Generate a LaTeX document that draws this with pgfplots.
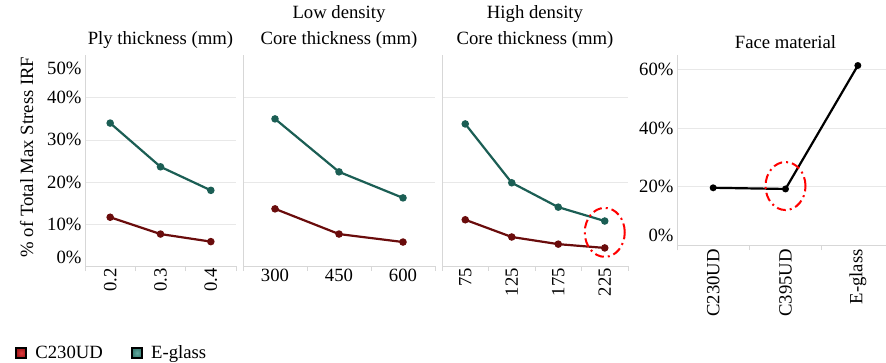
\documentclass[border=0pt]{standalone}
\usepackage{fontspec}
\setmainfont{Liberation Serif}
\usepackage{pgfplots}
\pgfplotsset{compat=1.18}

\definecolor{eglass}{RGB}{27,94,84}
\definecolor{cud}{RGB}{106,12,12}
\definecolor{gridc}{RGB}{232,232,232}
\definecolor{axc}{RGB}{215,215,215}
\definecolor{redsq}{RGB}{222,60,62}
\definecolor{redsqo}{RGB}{165,25,28}
\definecolor{tealsq}{RGB}{100,170,160}
\definecolor{tealsqo}{RGB}{55,125,115}

\newcommand\chartfont{\fontsize{18.7}{26}\selectfont}

\tikzset{ring/.style={red, line width=2pt, dash pattern=on 9pt off 4pt on 2pt off 4pt}}

\pgfplotsset{
  panel/.style={
    scale only axis, anchor=south west,
    axis x line*=bottom, axis y line*=left,
    axis line style={-, draw=axc, line width=0.8pt},
    ymajorgrids, grid style={draw=gridc, line width=0.8pt},
    major tick length=0pt, minor tick length=5pt, tick align=outside,
    minor tick style={draw=axc, line width=0.8pt},
    tick label style={font=\chartfont, text=black},
    title style={font=\chartfont, align=center, at={(0.5,1)}, anchor=south, inner sep=0pt},
    xmin=-0.5, clip=false,
    every axis plot/.append style={line width=2.2pt, mark=*, mark size=2.6pt, mark options={solid}},
  },
}

\begin{document}
\begin{tikzpicture}
\useasboundingbox (0pt,0pt) rectangle (886pt,-363pt);

% Ply thickness
\begin{axis}[panel, at={(85pt,-266pt)}, width=151pt, height=211pt,
  xmax=2.5, ymin=0, ymax=50.2,
  xtick={0,1,2}, xticklabels={0.2,0.3,0.4}, minor xtick={-0.5,0.5,1.5,2.5},
  xticklabel style={rotate=90, anchor=east, inner sep=2pt},
  ytick={10,20,30,40}, yticklabels={10\%,20\%,30\%,40\%},
  extra y ticks={0,50},
  extra y tick labels={\smash{\raisebox{2.8pt}{0\%}},\smash{\raisebox{-18.2pt}{50\%}}},
  extra y tick style={grid=none},
  title={Ply thickness (mm)},
  legend columns=2, legend cell align=left,
  legend style={font=\chartfont, draw=none, fill=none, inner sep=0pt,
    nodes={inner sep=0pt},
    /tikz/every odd column/.append style={column sep=8pt},
    /tikz/every even column/.append style={column sep=28pt},
    at={(axis description cs:-0.4636,-0.412)}, anchor=west}]
\addplot[eglass, forget plot] coordinates {(0,34.0) (1,23.6) (2,18.0)};
\addplot[cud, forget plot] coordinates {(0,11.6) (1,7.6) (2,5.8)};
\addlegendimage{legend image code/.code={\shade[inner color=redsq, outer color=redsqo] (0pt,-5pt) rectangle (10pt,5pt);}}
\addlegendentry{C230UD}
\addlegendimage{legend image code/.code={\shade[inner color=tealsq, outer color=tealsqo] (0pt,-5pt) rectangle (10pt,5pt);}}
\addlegendentry{E-glass}
\end{axis}

% Core thickness, low density core
\begin{axis}[panel, at={(243pt,-266pt)}, width=192pt, height=211pt,
  xmax=2.5, ymin=0, ymax=50.2,
  xtick={0,1,2}, xticklabels={300,450,600}, minor xtick={-0.5,0.5,1.5,2.5},
  xticklabel style={inner sep=3pt},
  ytick={20,40}, yticklabels={\empty,\empty},
  title={Low density\\Core thickness (mm)}]
\addplot[eglass] coordinates {(0,35.0) (1,22.4) (2,16.2)};
\addplot[cud] coordinates {(0,13.6) (1,7.6) (2,5.7)};
\end{axis}

% Core thickness, high density core
\begin{axis}[panel, at={(442pt,-266pt)}, width=186pt, height=211pt,
  xmax=3.5, ymin=0, ymax=50.2,
  xtick={0,1,2,3}, xticklabels={75,125,175,225}, minor xtick={-0.5,0.5,1.5,2.5,3.5},
  xticklabel style={rotate=90, anchor=east, inner sep=2pt},
  ytick={20,40}, yticklabels={\empty,\empty},
  title={High density\\Core thickness (mm)}]
\addplot[eglass] coordinates {(0,33.8) (1,19.8) (2,14.0) (3,10.7)};
\addplot[cud] coordinates {(0,11.0) (1,6.9) (2,5.2) (3,4.3)};
\draw[ring] (axis cs:3,8) ellipse [x radius=20pt, y radius=24.5pt];
\end{axis}

% Face material
\begin{axis}[panel, at={(677pt,-245pt)}, width=217pt, height=190pt,
  xmax=2.5, ymin=0, ymax=65.1,
  xtick={0,1,2}, xticklabels={C230UD,C395UD,E-glass}, minor xtick={-0.5,0.5,1.5,2.5},
  xticklabel style={rotate=90, anchor=east, inner sep=4pt},
  ytick={20,40,60}, yticklabels={20\%,40\%,60\%},
  extra y ticks={0}, extra y tick labels={\smash{\raisebox{3.8pt}{0\%}}},
  extra y tick style={grid=none},
  title={Face material}]
\addplot[black, mark size=2.3pt] coordinates {(0,19.6) (1,19.2) (2,61.5)};
\draw[ring] (axis cs:1,20.2) ellipse [x radius=20pt, y radius=24pt];
\end{axis}

\node[rotate=90, anchor=base, font=\chartfont, inner sep=0pt] at (33pt,-157pt) {\% of Total Max Stress IRF};
\end{tikzpicture}
\end{document}
